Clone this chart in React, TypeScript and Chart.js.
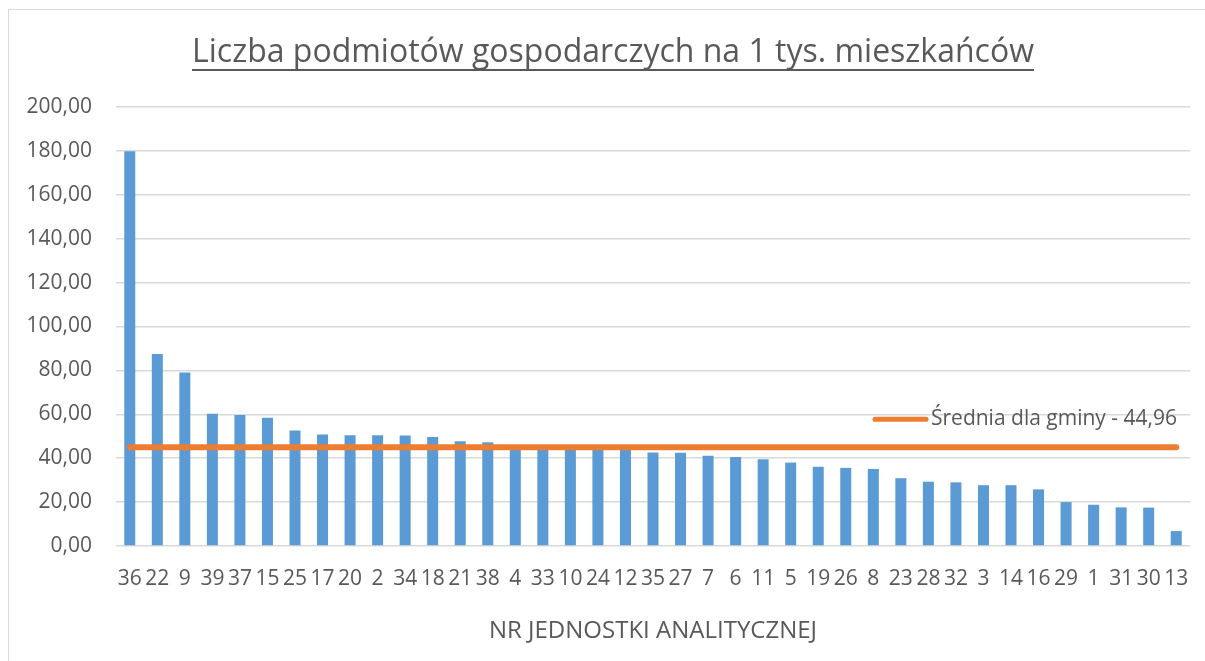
import React, { useEffect, useRef } from "react";
import { Chart, registerables } from "chart.js";

Chart.register(...registerables);

const TITLE = "Liczba podmiotów gospodarczych na 1 tys. mieszkańców";
const X_TITLE = "NR JEDNOSTKI ANALITYCZNEJ";
const MEAN_LABEL = "Średnia dla gminy - 44,96";
const MEAN = 44.96;

const categories = [
  "36", "22", "9", "39", "37", "15", "25", "17", "20", "2", "34", "18", "21", "38", "4",
  "33", "10", "24", "12", "35", "27", "7", "6", "11", "5", "19", "26", "8", "23", "28",
  "32", "3", "14", "16", "29", "1", "31", "30", "13",
];

const values = [
  179.8, 87.5, 79.1, 60.3, 59.7, 58.4, 52.6, 50.8, 50.5, 50.5, 50.3, 49.7, 47.7, 47.3, 44.8,
  44.6, 44.4, 44.2, 44.0, 42.6, 42.5, 41.1, 40.6, 39.5, 38.0, 36.1, 35.6, 35.1, 30.9, 29.3,
  29.0, 27.7, 27.7, 25.8, 20.0, 18.8, 17.6, 17.5, 6.8,
];

const meanLine = categories.map(() => MEAN);

const TEXT = "#595959";
const FONT = "'Open Sans', sans-serif";

const decor = {
  id: "decor",
  afterDraw(chart: any) {
    const ctx = chart.ctx;
    ctx.save();
    // title
    ctx.font = `32px ${FONT}`;
    ctx.fillStyle = TEXT;
    ctx.textAlign = "center";
    ctx.textBaseline = "alphabetic";
    const cx = 613;
    const by = 62;
    ctx.fillText(TITLE, cx, by);
    const w = ctx.measureText(TITLE).width;
    ctx.fillRect(cx - w / 2, by + 7, w, 2);
    // legend
    const y = chart.scales.y.getPixelForValue(57.8);
    ctx.strokeStyle = "#ED7D31";
    ctx.lineWidth = 5;
    ctx.lineCap = "round";
    ctx.beginPath();
    ctx.moveTo(875, y);
    ctx.lineTo(926, y);
    ctx.stroke();
    ctx.font = `21px ${FONT}`;
    ctx.textAlign = "left";
    ctx.textBaseline = "middle";
    ctx.fillText(MEAN_LABEL, 931, y);
    ctx.restore();
  },
};

export default function App() {
  const ref = useRef<HTMLCanvasElement>(null);
  useEffect(() => {
    if (!ref.current) return;
    const chart = new Chart(ref.current, {
      type: "bar",
      data: {
        labels: categories,
        datasets: [
          {
            type: "line",
            label: MEAN_LABEL,
            data: meanLine,
            borderColor: "#ED7D31",
            backgroundColor: "#ED7D31",
            borderWidth: 6,
            borderCapStyle: "round",
            pointRadius: 0,
            order: 0,
          } as any,
          {
            type: "bar",
            label: "values",
            data: values,
            backgroundColor: "#5B9BD5",
            borderWidth: 0,
            barPercentage: 0.4,
            categoryPercentage: 1,
            order: 1,
          },
        ],
      },
      options: {
        responsive: false,
        animation: false,
        layout: { padding: { top: 107, right: 15, left: 0, bottom: 0 } },
        plugins: {
          legend: { display: false },
          title: { display: false },
          tooltip: { enabled: false },
        },
        scales: {
          x: {
            grid: { display: false },
            border: { display: false },
            ticks: {
              autoSkip: false,
              maxRotation: 0,
              color: TEXT,
              font: { family: FONT, size: 21 },
              padding: 12,
            },
            title: {
              display: true,
              text: X_TITLE,
              color: TEXT,
              font: { family: FONT, size: 24 },
              padding: { top: 0, bottom: 15 },
            },
            afterFit: (s: any) => {
              s.height = 115;
            },
          },
          y: {
            min: 0,
            max: 200,
            ticks: {
              stepSize: 20,
              color: TEXT,
              font: { family: FONT, size: 21 },
              padding: 24,
              callback: (v: any) => Number(v).toFixed(2).replace(".", ","),
            },
            grid: { color: "#D9D9D9", lineWidth: 1.5, drawTicks: false },
            border: { display: false },
            afterFit: (s: any) => {
              s.width = 116;
            },
          },
        },
      },
      plugins: [decor],
    });
    return () => chart.destroy();
  }, []);
  return (
    <div style={{ position: "fixed", left: 0, top: 0, width: 1205, height: 661, background: "#fff" }}>
      <div
        style={{
          position: "absolute",
          left: 8,
          top: 9,
          width: 1300,
          height: 700,
          borderLeft: "1.5px solid #D9D9D9",
          borderTop: "1.5px solid #D9D9D9",
        }}
      />
      <canvas ref={ref} width={1205} height={661} style={{ position: "absolute", left: 0, top: 0 }} />
    </div>
  );
}
